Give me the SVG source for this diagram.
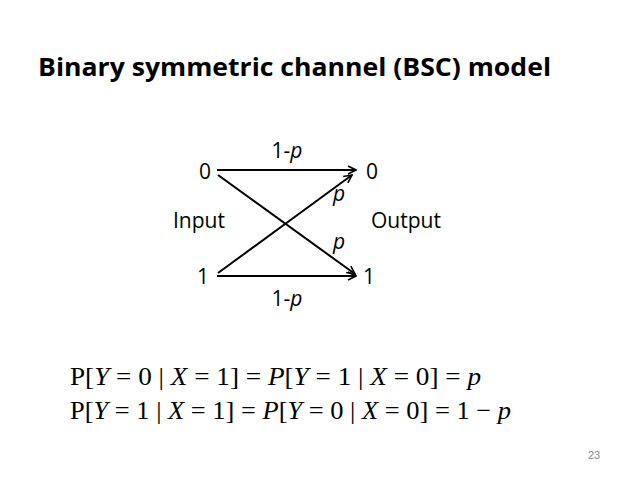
<svg xmlns="http://www.w3.org/2000/svg" width="638" height="478" viewBox="0 0 638 478">
<defs>
<marker id="ah" markerWidth="10" markerHeight="10" refX="9" refY="5" orient="auto" markerUnits="userSpaceOnUse"><path d="M1,1 L9,5 L1,9" fill="none" stroke="#000" stroke-width="1.6"/></marker>
<style>
.t{font-family:"Open Sans","Liberation Sans",Arial,sans-serif;font-size:21px;fill:#000}
.m{font-family:"Liberation Serif","Times New Roman",serif;font-size:26px;fill:#000}
.e{stroke:#000;stroke-width:2;fill:none;marker-end:url(#ah)}
</style>
</defs>
<rect width="638" height="478" fill="#fff"/>
<text x="38" y="76" font-family="'Open Sans','Liberation Sans',Arial,sans-serif" font-weight="bold" font-size="25" textLength="513" lengthAdjust="spacingAndGlyphs">Binary symmetric channel (BSC) model</text>
<g id="connectors">
<line class="e" x1="217" y1="170" x2="356" y2="170"/>
<line class="e" x1="217" y1="276" x2="356" y2="276"/>
<line class="e" x1="218" y1="175" x2="355" y2="274"/>
<line class="e" x1="218" y1="273" x2="352" y2="175"/>
</g>
<g id="in0"><text class="t" x="205" y="179" text-anchor="middle">0</text></g>
<g id="in1"><text class="t" x="203" y="284" text-anchor="middle">1</text></g>
<g id="out0"><text class="t" x="372" y="179" text-anchor="middle">0</text></g>
<g id="out1"><text class="t" x="369" y="284" text-anchor="middle">1</text></g>
<g id="labels">
<text class="t" x="287" y="158" text-anchor="middle">1-<tspan font-style="italic">p</tspan></text>
<text class="t" x="287" y="306" text-anchor="middle">1-<tspan font-style="italic">p</tspan></text>
<text class="t" x="339" y="201" text-anchor="middle" font-style="italic">p</text>
<text class="t" x="339" y="249" text-anchor="middle" font-style="italic">p</text>
<text class="t" x="199" y="228" text-anchor="middle" textLength="52" lengthAdjust="spacingAndGlyphs">Input</text>
<text class="t" x="406" y="228" text-anchor="middle" textLength="70" lengthAdjust="spacingAndGlyphs">Output</text>
</g>
<text class="m" x="70" y="385" textLength="411" lengthAdjust="spacingAndGlyphs">P[<tspan font-style="italic">Y</tspan> = 0 | <tspan font-style="italic">X</tspan> = 1] = <tspan font-style="italic">P</tspan>[<tspan font-style="italic">Y</tspan> = 1 | <tspan font-style="italic">X</tspan> = 0] = <tspan font-style="italic">p</tspan></text>
<text class="m" x="70" y="419" textLength="441" lengthAdjust="spacingAndGlyphs">P[<tspan font-style="italic">Y</tspan> = 1 | <tspan font-style="italic">X</tspan> = 1] = <tspan font-style="italic">P</tspan>[<tspan font-style="italic">Y</tspan> = 0 | <tspan font-style="italic">X</tspan> = 0] = 1 − <tspan font-style="italic">p</tspan></text>
<text x="594" y="459" font-family="'Liberation Sans',Arial,sans-serif" font-size="11" fill="#888" text-anchor="middle">23</text>
</svg>
